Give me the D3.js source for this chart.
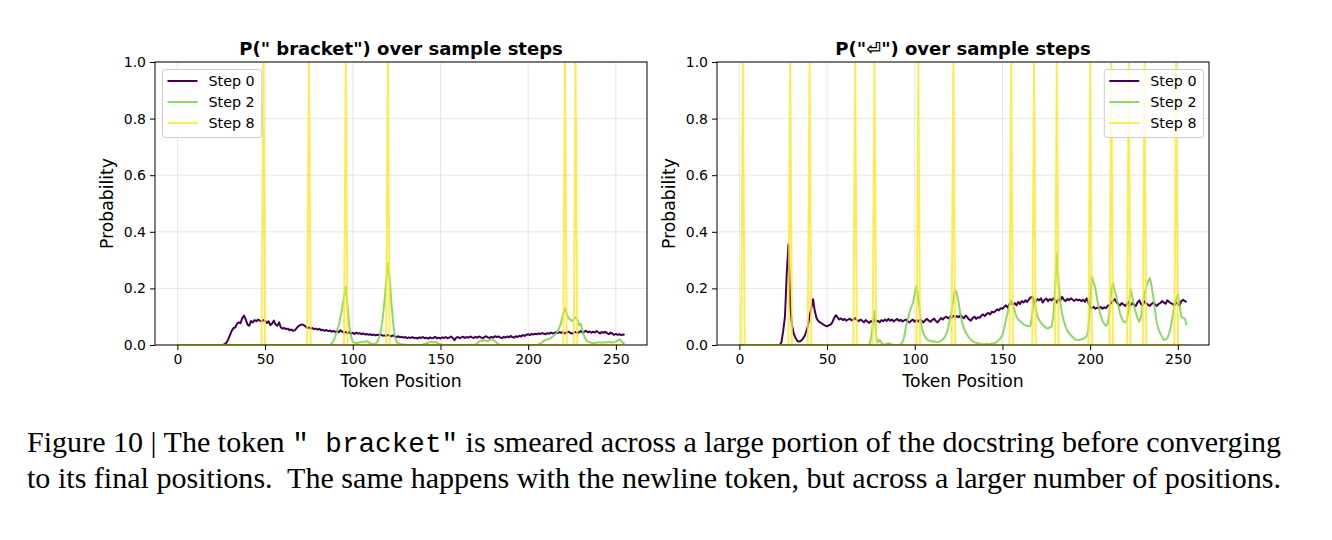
<!DOCTYPE html>
<html>
<head>
<meta charset="utf-8">
<script src="https://cdn.jsdelivr.net/npm/d3@7"></script>
<style>
  body { margin: 0; background: #fff; }
  svg { display: block; }
</style>
</head>
<body>
<div id="chart_container"></div>
<script>
// token positions 0..255 (x axis categories)
let tokenPositions = d3.range(256);

let xTicks = [0, 50, 100, 150, 200, 250];
let yTicks = [0, 0.2, 0.4, 0.6, 0.8, 1.0];
let stepLabels = ["Step 0", "Step 2", "Step 8"];

// P(" bracket"), step 0
let bracketStep0 = [
  0,0,0,0,0,0,0,0,0,0,
  0,0,0,0,0,0,0,0,0,0,
  0,0,0,0,0,0,0,.003,.008,.02,
  .035,.05,.06,.062,.075,.08,.077,.095,.104,.09,
  .072,.068,.085,.08,.088,.084,.09,.086,.083,.088,
  .085,.078,.084,.07,.076,.086,.072,.068,.08,.062,
  .058,.06,.056,.058,.052,.055,.05,.052,.06,.066,
  .07,.073,.07,.066,.06,.062,.058,.06,.056,.058,
  .054,.057,.052,.054,.05,.053,.049,.051,.047,.05,
  .046,.049,.045,.052,.047,.044,.046,.042,.045,.04,
  .043,.039,.044,.04,.042,.038,.041,.037,.039,.036,
  .038,.035,.037,.034,.036,.035,.037,.033,.034,.032,
  .035,.033,.031,.034,.03,.028,.031,.027,.029,.026,
  .028,.024,.027,.025,.028,.024,.026,.023,.027,.025,
  .028,.024,.026,.022,.027,.024,.025,.029,.024,.026,
  .023,.027,.025,.028,.024,.026,.03,.025,.017,.026,
  .028,.024,.027,.029,.025,.028,.026,.03,.027,.025,
  .029,.026,.03,.027,.024,.028,.031,.027,.025,.029,
  .026,.031,.028,.03,.027,.024,.029,.026,.03,.027,
  .032,.028,.026,.031,.028,.033,.03,.035,.032,.036,
  .038,.035,.039,.037,.04,.038,.041,.039,.042,.04,
  .038,.042,.04,.044,.041,.043,.045,.042,.046,.043,
  .045,.041,.044,.047,.043,.04,.044,.046,.042,.045,
  .049,.044,.047,.05,.045,.048,.043,.047,.044,.049,
  .045,.041,.046,.043,.047,.042,.038,.044,.04,.036,
  .039,.036,.038,.035,.037,.036
];

// P(" bracket"), step 2
let bracketStep2 = [
  0,0,0,0,0,0,0,0,0,0,
  0,0,0,0,0,0,0,0,0,0,
  0,0,0,0,0,0,0,0,0,0,
  0,0,0,0,0,0,0,0,0,0,
  0,0,0,0,0,0,0,0,0,0,
  0,0,0,0,0,0,0,0,0,0,
  0,0,0,0,0,0,0,0,0,0,
  0,0,0,0,0,0,0,0,0,0,
  0,0,0,0,0,0,0,0,.005,.015,
  .03,.05,.07,.1,.13,.17,.205,.14,.07,.03,
  .012,.008,.006,.008,.01,.012,.01,.012,.014,.01,
  .006,.004,.003,.005,.01,.025,.05,.09,.15,.22,
  .29,.24,.15,.08,.03,.01,.006,.004,.003,.002,
  .001,0,0,0,0,0,0,0,0,0,
  .002,.004,.006,.008,.01,.012,.009,.011,.008,.005,
  .003,.002,0,0,0,0,0,0,0,0,
  0,0,0,0,0,0,0,0,0,0,
  .002,.006,.012,.016,.014,.018,.015,.013,.017,.02,
  .018,.014,.008,.003,.001,0,0,0,0,0,
  0,0,0,0,0,0,0,0,0,0,
  0,0,0,0,0,0,.002,.005,.01,.015,
  .018,.02,.022,.025,.03,.035,.04,.05,.065,.085,
  .11,.13,.11,.095,.09,.085,.09,.098,.092,.07,
  .075,.05,.03,.018,.012,.01,.008,.006,.007,.008,
  .01,.009,.008,.01,.009,.01,.011,.01,.009,.01,
  .012,.016,.02,.015,.008,.005
];

// P(" bracket"), step 8: positions where probability is 1
let bracketStep8Peaks = [49, 75, 96, 120, 221, 227];

// P("⏎"), step 0
let newlineStep0 = [
  0,0,0,0,0,0,0,0,0,0,
  0,0,0,0,0,0,0,0,0,0,
  0,0,0,0,.01,.05,.1,.25,.355,.14,
  .07,.04,.025,.015,.012,.014,.02,.03,.045,.065,
  .1,.13,.162,.12,.095,.085,.08,.076,.072,.068,
  .066,.07,.072,.08,.095,.105,.098,.09,.094,.088,
  .092,.086,.09,.093,.087,.09,.095,.088,.084,.09,
  .086,.08,.088,.083,.078,.085,.08,.09,.082,.086,
  .08,.088,.084,.09,.085,.092,.086,.09,.083,.088,
  .092,.085,.089,.083,.087,.09,.084,.08,.086,.09,
  .082,.088,.083,.09,.085,.08,.088,.092,.086,.082,
  .089,.093,.085,.08,.088,.095,.09,.097,.1,.094,
  .1,.097,.103,.099,.102,.098,.105,.1,.094,.104,
  .098,.09,.086,.095,.1,.092,.098,.096,.104,.108,
  .102,.11,.113,.108,.118,.115,.12,.126,.122,.13,
  .128,.135,.14,.132,.145,.15,.142,.148,.14,.152,
  .145,.155,.15,.158,.152,.16,.168,.17,.148,.155,
  .162,.158,.165,.15,.16,.164,.155,.162,.158,.165,
  .16,.15,.162,.158,.17,.16,.155,.163,.158,.165,
  .16,.156,.162,.158,.16,.155,.16,.152,.165,.15,
  .135,.13,.135,.128,.132,.13,.135,.128,.133,.13,
  .138,.142,.148,.155,.162,.152,.145,.14,.148,.143,
  .138,.145,.152,.14,.148,.142,.138,.15,.158,.145,
  .14,.155,.148,.142,.138,.145,.15,.143,.138,.145,
  .148,.155,.15,.146,.158,.152,.148,.145,.14,.15,
  .145,.14,.155,.16,.155,.152
];

// P("⏎"), step 2
let newlineStep2 = [
  0,0,0,0,0,0,0,0,0,0,
  0,0,0,0,0,0,0,0,0,0,
  0,0,0,0,0,0,0,0,0,0,
  0,0,0,0,0,0,0,0,0,0,
  0,0,0,0,0,0,0,0,0,0,
  0,0,0,0,0,0,0,0,0,0,
  0,0,0,0,0,0,0,0,0,0,
  0,0,0,0,0,.02,.07,.12,.03,.01,
  .018,.008,.003,.002,.004,.006,.004,.002,0,0,
  0,0,.002,.01,.03,.065,.09,.115,.135,.15,
  .18,.208,.17,.11,.06,.04,.028,.02,.016,.014,
  .012,.013,.011,.01,.012,.015,.02,.028,.04,.06,
  .09,.12,.16,.197,.18,.15,.11,.08,.06,.045,
  .035,.025,.018,.014,.01,.008,.006,.005,.004,.003,
  .003,.004,.003,.004,.005,.006,.008,.012,.018,.025,
  .035,.06,.09,.115,.14,.158,.14,.12,.1,.09,
  .085,.078,.073,.07,.068,.066,.068,.11,.165,.13,
  .1,.088,.078,.072,.065,.06,.058,.062,.065,.1,
  .2,.325,.22,.15,.11,.085,.065,.05,.041,.035,
  .028,.022,.019,.018,.018,.02,.022,.026,.03,.06,
  .15,.241,.22,.2,.16,.13,.105,.085,.075,.068,
  .075,.12,.19,.218,.19,.17,.14,.112,.095,.082,
  .08,.09,.13,.2,.17,.14,.115,.095,.082,.1,
  .147,.18,.206,.225,.236,.21,.17,.12,.077,.055,
  .041,.028,.018,.02,.024,.04,.065,.1,.14,.16,
  .18,.14,.1,.095,.094,.07
];

// P("⏎"), step 8: positions where probability is 1
let newlineStep8Peaks = [2, 29, 40, 66, 77, 102, 122, 155, 168, 181, 200, 212, 222, 231, 249];

let captionLine1 = ["Figure 10 | The token ", "\" bracket\"", " is smeared across a large portion of the docstring before converging"];
let captionLine2 = "to its final positions.\u00a0 The same happens with the newline token, but across a larger number of positions.";

// layout
let svgWidth = 1332;
let svgHeight = 540;
let plotTop = 62;
let plotBottom = 345;
let plotWidth = 492;

let stepColors = ["#440154", "#7ad151", "#fde725"];
let stepOpacity = [1, 0.85, 0.8];
let sansFont = "'DejaVu Sans', sans-serif";

let svg = d3.select("#chart_container")
  .append("svg")
  .attr("width", svgWidth)
  .attr("height", svgHeight);

function peaksToSeries(peaks) {
  return tokenPositions.map(p => peaks.includes(p) ? 1 : 0);
}

function drawPanel({id, title, series, plotLeft, legendRight}) {
  let xScale = d3.scaleLinear()
    .domain([-12.75, 267.75])
    .range([plotLeft, plotLeft + plotWidth]);

  let yScale = d3.scaleLinear()
    .domain([0, 1])
    .range([plotBottom, plotTop]);

  let g = svg.append("g");

  g.append("clipPath")
    .attr("id", "clip-" + id)
    .append("rect")
    .attr("x", plotLeft)
    .attr("y", plotTop)
    .attr("width", plotWidth)
    .attr("height", plotBottom - plotTop);

  // grid
  g.selectAll(".vgrid")
    .data(xTicks)
    .enter()
    .append("line")
    .attr("x1", d => xScale(d))
    .attr("x2", d => xScale(d))
    .attr("y1", plotTop)
    .attr("y2", plotBottom)
    .attr("stroke", "#b0b0b0")
    .attr("stroke-opacity", 0.3)
    .attr("stroke-width", 1);

  g.selectAll(".hgrid")
    .data(yTicks)
    .enter()
    .append("line")
    .attr("x1", plotLeft)
    .attr("x2", plotLeft + plotWidth)
    .attr("y1", d => yScale(d))
    .attr("y2", d => yScale(d))
    .attr("stroke", "#b0b0b0")
    .attr("stroke-opacity", 0.3)
    .attr("stroke-width", 1);

  // lines
  let line = d3.line()
    .x((d, i) => xScale(tokenPositions[i]))
    .y(d => yScale(d));

  series.forEach((values, k) => {
    g.append("path")
      .datum(values)
      .attr("clip-path", "url(#clip-" + id + ")")
      .attr("fill", "none")
      .attr("stroke", stepColors[k])
      .attr("stroke-opacity", stepOpacity[k])
      .attr("stroke-width", 2)
      .attr("stroke-linejoin", "round")
      .attr("d", line);
  });

  // axes
  let xAxis = d3.axisBottom(xScale)
    .tickValues(xTicks)
    .tickSize(5)
    .tickPadding(4)
    .tickFormat(d3.format("d"));

  let yAxis = d3.axisLeft(yScale)
    .tickValues(yTicks)
    .tickSize(5)
    .tickPadding(4)
    .tickFormat(d3.format(".1f"));

  g.append("g")
    .attr("transform", "translate(0," + plotBottom + ")")
    .call(xAxis)
    .call(a => a.select(".domain").remove());

  g.append("g")
    .attr("transform", "translate(" + plotLeft + ",0)")
    .call(yAxis)
    .call(a => a.select(".domain").remove());

  g.selectAll(".tick text")
    .attr("font-family", sansFont)
    .attr("font-size", 14)
    .attr("fill", "#000");
  g.selectAll(".tick line")
    .attr("stroke", "#000");

  // spines
  g.append("rect")
    .attr("x", plotLeft)
    .attr("y", plotTop)
    .attr("width", plotWidth)
    .attr("height", plotBottom - plotTop)
    .attr("fill", "none")
    .attr("stroke", "#000")
    .attr("stroke-width", 1);

  // labels
  g.append("text")
    .attr("x", plotLeft + plotWidth / 2)
    .attr("y", 54.5)
    .attr("text-anchor", "middle")
    .attr("font-family", sansFont)
    .attr("font-weight", "bold")
    .attr("font-size", 18)
    .text(title);

  g.append("text")
    .attr("x", plotLeft + plotWidth / 2)
    .attr("y", 387)
    .attr("text-anchor", "middle")
    .attr("font-family", sansFont)
    .attr("font-size", 17.2)
    .text("Token Position");

  g.append("text")
    .attr("transform", "translate(" + (plotLeft - 42) + "," + ((plotTop + plotBottom) / 2) + ") rotate(-90)")
    .attr("text-anchor", "middle")
    .attr("font-family", sansFont)
    .attr("font-size", 17.2)
    .text("Probability");

  drawLegend(g, plotLeft, legendRight);
}

function drawLegend(g, plotLeft, legendRight) {
  let legend = g.append("g");
  let box = legend.append("rect")
    .attr("fill", "#fff")
    .attr("fill-opacity", 0.8)
    .attr("stroke", "#cccccc")
    .attr("stroke-width", 1)
    .attr("rx", 3);

  let texts = stepLabels.map((label, i) => {
    legend.append("line")
      .attr("x1", 5)
      .attr("x2", 35)
      .attr("y1", 11.5 + i * 21)
      .attr("y2", 11.5 + i * 21)
      .attr("stroke", stepColors[i])
      .attr("stroke-opacity", stepOpacity[i])
      .attr("stroke-width", 2);
    return legend.append("text")
      .attr("x", 46)
      .attr("y", 11.5 + i * 21)
      .attr("dy", "0.35em")
      .attr("font-family", sansFont)
      .attr("font-size", 14.3)
      .text(label);
  });

  let textWidth = d3.max(texts, t => t.node().getComputedTextLength());
  let boxWidth = 46 + textWidth + 7;
  box.attr("width", boxWidth).attr("height", 68);

  let x0 = legendRight ? plotLeft + plotWidth - 5.5 - boxWidth : plotLeft + 7.5;
  legend.attr("transform", "translate(" + x0 + "," + 69.5 + ")");
}

drawPanel({
  id: "bracket",
  title: "P(\" bracket\") over sample steps",
  series: [bracketStep0, bracketStep2, peaksToSeries(bracketStep8Peaks)],
  plotLeft: 155,
  legendRight: false
});

drawPanel({
  id: "newline",
  title: "P(\"\u23ce\") over sample steps",
  series: [newlineStep0, newlineStep2, peaksToSeries(newlineStep8Peaks)],
  plotLeft: 717,
  legendRight: true
});

// caption
let captionLeft = 27;
let captionRight = 1281;
let serifFont = "'Liberation Serif', 'Times New Roman', serif";
let monoFont = "'Liberation Mono', 'DejaVu Sans Mono', monospace";

let cap1 = svg.append("text")
  .attr("x", captionLeft)
  .attr("y", 452)
  .attr("font-family", serifFont)
  .attr("font-size", 27)
  .attr("fill", "#000")
  .style("white-space", "pre");
cap1.append("tspan").text(captionLine1[0]);
cap1.append("tspan").attr("font-family", monoFont).attr("font-size", "0.92em").text(captionLine1[1]);
cap1.append("tspan").text(captionLine1[2]);

let cap2 = svg.append("text")
  .attr("x", captionLeft)
  .attr("y", 488)
  .attr("font-family", serifFont)
  .attr("font-size", 27)
  .attr("fill", "#000")
  .style("white-space", "pre")
  .text(captionLine2);

// fit both caption lines to the same width
let w1 = cap1.node().getComputedTextLength();
let w2 = cap2.node().getComputedTextLength();
let target = captionRight - captionLeft;
let capSize = 27 * target / Math.max(w1, w2);
cap1.attr("font-size", capSize);
cap2.attr("font-size", capSize);
[cap1, cap2].forEach(t => {
  t.attr("textLength", target).attr("lengthAdjust", "spacing");
});
</script>
</body>
</html>
